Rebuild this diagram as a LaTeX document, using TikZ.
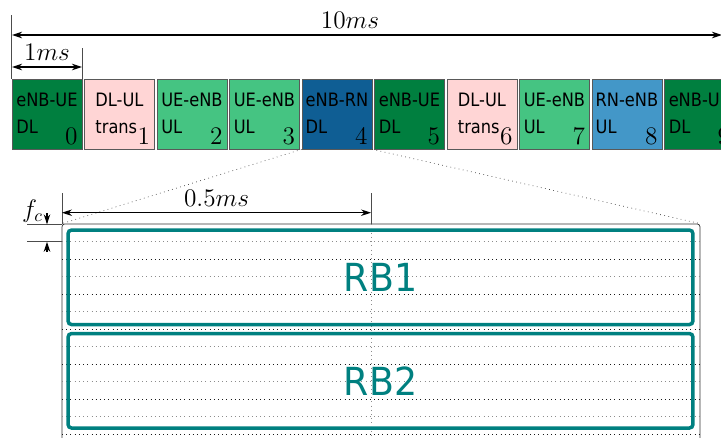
\documentclass[tikz,border=0pt]{standalone}
\usepackage{fontspec}
\setsansfont{DejaVu Sans}
\newfontfamily\subfont{DejaVu Sans}[FakeStretch=0.88]
\newfontfamily\rbfont{DejaVu Sans}[FakeStretch=0.94]
\usepackage{xcolor}
\usetikzlibrary{arrows.meta,positioning}
\definecolor{dlGreen}{HTML}{007F3F}
\definecolor{transPink}{HTML}{FFD5D5}
\definecolor{ulGreen}{HTML}{45C482}
\definecolor{relayBlue}{HTML}{0F5E94}
\definecolor{rnBlue}{HTML}{4397C8}
\definecolor{rbTeal}{HTML}{008080}

\begin{document}
\begin{tikzpicture}[x=0.02cm, y=-0.02cm,
  sub/.style={rectangle, draw=black!65, minimum width=1.4cm, minimum height=1.4cm, inner sep=0pt, align=left, text depth=0.8pt, font=\fontsize{10.5}{15.3}\subfont},
  num/.style={anchor=south east, inner sep=2.5pt, font=\Large},
  dim/.style={{Stealth[length=2mm,width=1.3mm]}-{Stealth[length=2mm,width=1.3mm]}, semithick},
  tip/.style={-{Stealth[length=2mm,width=1.3mm]}, semithick},
  tick/.style={draw=black!70, thin},
  zoomline/.style={dotted, draw=black!75, thin},
  grid/.style={rectangle, rounded corners=1.5pt, draw=black!80, minimum width=12.76cm, minimum height=4.5cm, inner sep=0pt},
  rb/.style={rectangle, rounded corners=2pt, draw=rbTeal, line width=2pt, minimum width=12.5cm, minimum height=1.89cm, text=rbTeal, font=\fontsize{22}{26}\rbfont}
]
\useasboundingbox (0,0) rectangle (721,437);

% radio frame, ten subframes
\node[sub, fill=dlGreen] (sf0) at (47,114) {eNB-UE\\DL};
\node[sub, fill=transPink, right=0.036cm of sf0] (sf1) {DL-UL\\trans};
\node[sub, fill=ulGreen, right=0.036cm of sf1] (sf2) {UE-eNB\\UL};
\node[sub, fill=ulGreen, right=0.036cm of sf2] (sf3) {UE-eNB\\UL};
\node[sub, fill=relayBlue, right=0.036cm of sf3] (sf4) {eNB-RN\\DL};
\node[sub, fill=dlGreen, right=0.036cm of sf4] (sf5) {eNB-UE\\DL};
\node[sub, fill=transPink, right=0.036cm of sf5] (sf6) {DL-UL\\trans};
\node[sub, fill=ulGreen, right=0.036cm of sf6] (sf7) {UE-eNB\\UL};
\node[sub, fill=rnBlue, right=0.036cm of sf7] (sf8) {RN-eNB\\UL};
\node[sub, fill=dlGreen, right=0.036cm of sf8] (sf9) {eNB-UE\\DL};
\foreach \i in {0,...,9}
  \node[num] at (sf\i.south east) {$\i$};

% frame and subframe lengths
\draw[tick] (sf0.north west) -- ++(0,-64);
\draw[tick] (sf0.north east) -- ++(0,-31);
\draw[dim] (12,35) -- (722,35);
\node[above, font=\Large] at (350,35) {$10ms$};
\draw[dim] (12,67) -- (82,67) node[midway, above, font=\Large] {$1ms$};

% resource grid of subframe 4
\node[grid] (rg) at (381,336.5) {};
\draw[zoomline] (sf4.south west) -- (rg.north west);
\draw[zoomline] (sf4.south east) -- (rg.north east);
\foreach \k in {1,3,...,11}
  \draw[dotted, black!45] (62,{224.3+17.5*\k}) -- (700,{224.3+17.5*\k});
\foreach \k in {2,4,...,12}
  \draw[dotted, black!90] (62,{224.3+17.5*\k}) -- (700,{224.3+17.5*\k});
\draw[dotted, black!45] (371,224.3) -- (371,450);

% slot length and subcarrier spacing
\draw[tick] (62,193) -- (62,224.3);
\draw[tick] (371,193) -- (371,224.3);
\draw[dim] (62,212.7) -- (371,212.7) node[midway, above, font=\Large] {$0.5ms$};
\draw[tick] (27,224.3) -- (62,224.3);
\draw[tick] (27,241.8) -- (62,241.8);
\draw[tip] (47,213) -- (47,224.3);
\draw[tip] (47,252) -- (47,241.8);
\node[font=\Large] (fc) at (32.5,211) {$f_c$};

% resource blocks
\node[rb] (rb1) at (380.5,277.3) {RB1};
\node[rb, below=0.11cm of rb1] (rb2) {RB2};
\end{tikzpicture}
\end{document}
